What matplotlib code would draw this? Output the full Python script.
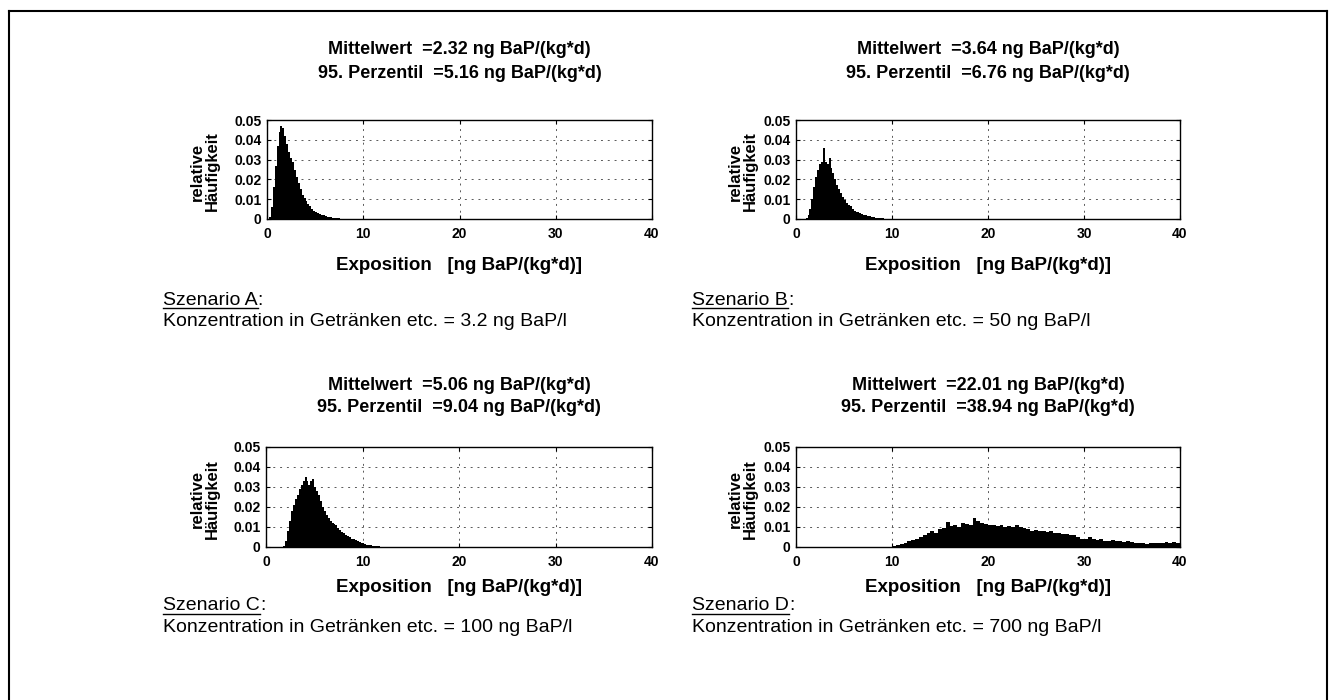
import numpy as np
import matplotlib
matplotlib.use("Agg")
import matplotlib.pyplot as plt
from matplotlib.lines import Line2D

plt.rcParams['font.family'] = ['Liberation Sans', 'DejaVu Sans']

# --- histogram data (relative frequency per bin) ---
# Szenario A: bins of 0.2 starting at 0
bins_a_start, bins_a_width = 0.0, 0.2
freq_a = [0.0, 0.001, 0.006, 0.016, 0.027, 0.037, 0.044, 0.047, 0.046, 0.042,
          0.038, 0.034, 0.031, 0.029, 0.025, 0.021, 0.018, 0.015, 0.012, 0.0105,
          0.009, 0.0078, 0.0065, 0.0052, 0.0042, 0.0036, 0.003, 0.0025, 0.0021, 0.0018,
          0.0015, 0.0012, 0.001, 0.0009, 0.0007, 0.0005, 0.0004, 0.0003, 0.0002, 0.0002,
          0.0001, 0.0001]

# Szenario B: bins of 0.2 starting at 0
bins_b_start, bins_b_width = 0.0, 0.2
freq_b = [0.0, 0.0, 0.0, 0.0, 0.0, 0.0005, 0.002, 0.005, 0.010, 0.016,
          0.021, 0.025, 0.028, 0.029, 0.036, 0.029, 0.028, 0.031, 0.026, 0.023,
          0.020, 0.017, 0.015, 0.013, 0.011, 0.0095, 0.008, 0.007, 0.0065, 0.005,
          0.004, 0.0035, 0.0033, 0.003, 0.0025, 0.002, 0.0018, 0.0015, 0.0013, 0.001,
          0.0009, 0.0007, 0.0006, 0.0005, 0.0004, 0.0003, 0.0002, 0.0002]

# Szenario C: bins of 0.2 starting at 0
bins_c_start, bins_c_width = 0.0, 0.2
freq_c = [0.0, 0.0, 0.0, 0.0, 0.0, 0.0, 0.0, 0.0, 0.0, 0.0005,
          0.003, 0.008, 0.013, 0.018, 0.021, 0.024, 0.026, 0.029, 0.031, 0.033,
          0.035, 0.033, 0.031, 0.033, 0.034, 0.030, 0.028, 0.026, 0.023, 0.020,
          0.018, 0.016, 0.0145, 0.013, 0.012, 0.0115, 0.011, 0.0095, 0.0085, 0.0075,
          0.0068, 0.006, 0.0053, 0.0048, 0.0042, 0.0038, 0.0034, 0.003, 0.0026, 0.0022,
          0.0018, 0.0015, 0.0012, 0.001, 0.0008, 0.0006, 0.0005, 0.0004, 0.0003, 0.0002,
          0.0001, 0.0001]

# Szenario D: bins of 0.4 starting at 9.6
bins_d_start, bins_d_width = 9.6, 0.4
freq_d = [0.0002, 0.0005, 0.001, 0.0017, 0.0022, 0.0028, 0.0035, 0.0042, 0.0048, 0.0058,
          0.0072, 0.0078, 0.0070, 0.0088, 0.0095, 0.0125, 0.0105, 0.0112, 0.0100, 0.0118,
          0.0115, 0.0112, 0.0145, 0.0128, 0.0122, 0.0115, 0.0108, 0.0112, 0.0105, 0.0110,
          0.0102, 0.0106, 0.0100, 0.0112, 0.0098, 0.0095, 0.0090, 0.0082, 0.0085, 0.0078,
          0.0080, 0.0075, 0.0078, 0.0072, 0.0068, 0.0066, 0.0064, 0.0060, 0.0062, 0.0050,
          0.0040, 0.0042, 0.0048, 0.0040, 0.0036, 0.0038, 0.0032, 0.0030, 0.0035, 0.0030,
          0.0028, 0.0026, 0.0028, 0.0024, 0.0022, 0.0020, 0.0018, 0.0016, 0.0020, 0.0018,
          0.0022, 0.0020, 0.0025, 0.0020, 0.0026, 0.0022]

scenarios = ["A", "B", "C", "D"]
mittelwert = ["2.32", "3.64", "5.06", "22.01"]
perzentil = ["5.16", "6.76", "9.04", "38.94"]
konzentration = ["3.2", "50", "100", "700"]

x_ticks = [0, 10, 20, 30, 40]
y_ticks = [0, 0.01, 0.02, 0.03, 0.04, 0.05]
y_ticklabels = ["0", "0.01", "0.02", "0.03", "0.04", "0.05"]

hist_data = [
    (bins_a_start, bins_a_width, freq_a),
    (bins_b_start, bins_b_width, freq_b),
    (bins_c_start, bins_c_width, freq_c),
    (bins_d_start, bins_d_width, freq_d),
]

W, H = 1333, 700
fig = plt.figure(figsize=(W / 100, H / 100), dpi=100)

# axes boxes in pixels: left, top, right, bottom
boxes = [(267, 120, 652, 219), (796, 120, 1180, 219),
         (266, 447, 652, 547), (796, 447, 1180, 547)]
title_y = [(50, 73), (50, 73), (385, 408), (385, 408)]
xlabel_y = [265, 265, 588, 588]
ylabel_x = [205, 743, 205, 743]
text_pos = [(163, 301, 321), (692, 301, 321), (163, 606, 627), (692, 606, 627)]


def fx(px):
    return px / W


def fy(py):
    return 1 - py / H


axes = []
for i, (l, t, r, b) in enumerate(boxes):
    ax = fig.add_axes([fx(l), fy(b), (r - l) / W, (b - t) / H])
    start, bw, freq = hist_data[i]
    edges = start + bw * np.arange(len(freq))
    ax.bar(edges, freq, width=bw, align='edge', color='black', linewidth=0)
    ax.set_xlim(0, 40)
    ax.set_ylim(0, 0.05)
    ax.set_xticks(x_ticks)
    ax.set_xticklabels([str(v) for v in x_ticks])
    ax.set_yticks(y_ticks)
    ax.set_yticklabels(y_ticklabels)
    ax.tick_params(direction='in', length=3, width=0.8, top=True, right=True,
                   labelsize=10, pad=4)
    ax.tick_params(axis='x', pad=6)
    for lab in ax.get_xticklabels() + ax.get_yticklabels():
        lab.set_fontweight('bold')
    ax.grid(True, linestyle=(0, (2, 5)), color='0.35', linewidth=0.7)
    ax.set_axisbelow(True)
    for sp in ax.spines.values():
        sp.set_linewidth(1.0)
    axes.append(ax)

    cx = (l + r) / 2
    fig.text(fx(cx), fy(title_y[i][0]), f"Mittelwert  ={mittelwert[i]} ng BaP/(kg*d)",
             ha='center', va='center', fontsize=13, fontweight='bold')
    fig.text(fx(cx), fy(title_y[i][1]), f"95. Perzentil  ={perzentil[i]} ng BaP/(kg*d)",
             ha='center', va='center', fontsize=13, fontweight='bold')
    fig.text(fx(cx), fy(xlabel_y[i]), "Exposition   [ng BaP/(kg*d)]",
             ha='center', va='center', fontsize=13.5, fontweight='bold')
    fig.text(fx(ylabel_x[i]), fy((t + b) / 2 + 2), "relative\nHäufigkeit",
             ha='center', va='center', rotation=90, fontsize=12,
             fontweight='bold', linespacing=0.95)

# Szenario texts with underlined heading
fig.canvas.draw()
renderer = fig.canvas.get_renderer()
for i, (x0, y1, y2) in enumerate(text_pos):
    head = fig.text(fx(x0), fy(y1), f"Szenario {scenarios[i]}", ha='left', va='center',
                    fontsize=14)
    bb = head.get_window_extent(renderer)
    fig.text(bb.x1 / W, fy(y1), ":", ha='left', va='center', fontsize=14)
    uy = bb.y0 / H + 1.0 / H
    fig.add_artist(Line2D([bb.x0 / W, bb.x1 / W], [uy, uy], color='black',
                          linewidth=1.0, transform=fig.transFigure))
    fig.text(fx(x0), fy(y2), f"Konzentration in Getränken etc. = {konzentration[i]} ng BaP/l",
             ha='left', va='center', fontsize=14)

# frame around the figure
frame_kw = dict(color='black', linewidth=1.5, transform=fig.transFigure)
fig.add_artist(Line2D([fx(9), fx(1327)], [fy(11), fy(11)], **frame_kw))
fig.add_artist(Line2D([fx(9), fx(9)], [fy(11), fy(699)], **frame_kw))
fig.add_artist(Line2D([fx(1327), fx(1327)], [fy(11), fy(699)], **frame_kw))

fig.savefig("out.png", dpi=100, facecolor='white')
